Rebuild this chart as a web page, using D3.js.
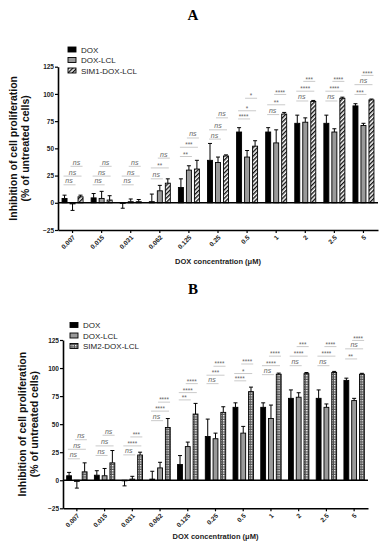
<!DOCTYPE html>
<html><head><meta charset="utf-8">
<script src="https://cdn.jsdelivr.net/npm/d3@7"></script>
<style>
html,body{margin:0;padding:0;background:#fff;}
svg{display:block;font-family:"Liberation Sans",Arial,sans-serif;}
</style></head>
<body>
<svg id="chart" width="387" height="550"></svg>
<script>
// ---------- DATA ----------
const categories = ["0.007","0.015","0.031","0.062","0.125","0.25","0.5","1","2","2.5","5"];
const yTicks = [-25,0,25,50,75,100,125];

const doxMean   = [4, 4.5, -0.5, 1, 14, 39, 65, 65, 73, 73, 89];
const doxErr    = [3, 4, 4.5, 7, 8, 15.5, 4, 4, 7.5, 7.5, 2];
const lclMean   = [-1, 4, 1, 11, 30, 37, 42, 55, 74, 65, 71];
const lclErr    = [6, 6.5, 2.5, 5, 4, 5, 6, 12, 4, 3, 2];
const sim1Mean  = [5.5, 2.5, 1, 18, 31, 43, 52, 81.5, 93, 96, 94.5];
const sim1Err   = [1.5, 4, 2, 4, 8, 1, 5, 1.5, 1, 1, 0.8];
const sim2Mean  = [7.5, 15.5, 22.5, 47, 59, 60.5, 79, 94.5, 95, 96, 94.5];
const sim2Err   = [8, 11, 2.5, 8, 9.5, 5, 4, 1, 1, 1, 0.8];

// significance labels per group: [DOX vs DOX-LCL, DOX vs SIM, DOX-LCL vs SIM]
const sigA = [["ns","ns","ns"],["ns","ns","ns"],["ns","ns","ns"],["ns","**","ns"],["**","***","ns"],
  ["ns","ns","ns"],["****","*","*"],["ns","**","****"],["ns","****","***"],["ns","****","****"],["***","ns","****"]];
// heights (y units) of those labels
const sigLevelA = [[20,28,37],[20,28,37],[20,28,37],[25.5,35.5,44.5],[46,54.5,63],[62,70.5,81.5],
  [80.5,88,99.5],[84.5,93.5,103],[97,106,115],[97,106,115],[103,112,120.5]];
const sigB = [["ns","ns","ns"],["ns","ns","ns"],["ns","****","***"],["ns","****","****"],["**","****","****"],
  ["ns","***","****"],["****","*","****"],["ns","****","****"],["ns","****","***"],["ns","****","****"],["**","ns","****"]];
const sigLevelB = [[22.5,31,39.5],[25.5,34,43.5],[26,34,42],[56.5,65,73],[75,81.5,89.5],[89.5,97,105],
  [92,98.5,107],[97.5,105.5,114],[105.5,114,122.5],[105.5,114,122.5],[111.5,120.5,128]];

const seriesA = ["DOX","DOX-LCL","SIM1-DOX-LCL"];
const seriesB = ["DOX","DOX-LCL","SIM2-DOX-LCL"];

// ---------- DRAW ----------
const svg = d3.select("#chart");
const defs = svg.append("defs");
const hatch = defs.append("pattern").attr("id","hatch").attr("patternUnits","userSpaceOnUse")
  .attr("width",3).attr("height",3).attr("patternTransform","rotate(45)");
hatch.append("rect").attr("width",3).attr("height",3).attr("fill","#fff");
hatch.append("rect").attr("width",1.4).attr("height",3).attr("fill","#111");
const dots = defs.append("pattern").attr("id","dots").attr("patternUnits","userSpaceOnUse")
  .attr("width",2.5).attr("height",2.5);
dots.append("rect").attr("width",2.5).attr("height",2.5).attr("fill","#555");
dots.append("rect").attr("width",1.3).attr("height",1.3).attr("fill","#fff");

const fills = ["#000","#9a9a9a"];

function panel(cfg){
  const g = svg.append("g");
  const x = d3.scaleBand().domain(categories).range([cfg.x0, cfg.x1]);
  const xs = d3.scaleBand().domain(cfg.series).range([-cfg.half, cfg.half]).paddingInner(0.375);
  const y = d3.scaleLinear().domain([-25,125]).range([cfg.yb, cfg.yt]);

  // title
  svg.append("text").attr("x",193).attr("y",cfg.titleY).attr("text-anchor","middle")
    .attr("font-family","'Liberation Serif','DejaVu Serif',serif").attr("font-weight","bold")
    .attr("font-size",15).text(cfg.title);

  // y axis
  const ya = g.append("g").attr("transform",`translate(${cfg.x0},0)`)
    .call(d3.axisLeft(y).tickValues(yTicks).tickSize(3).tickSizeOuter(0));
  ya.select(".domain").attr("stroke-width",1.6);
  ya.selectAll(".tick line").attr("stroke-width",1.2);
  ya.selectAll("text").attr("font-size",6.5).attr("font-weight","bold").attr("fill","#222").attr("x",-4);

  // x axis at bottom
  const xa = g.append("g").attr("transform",`translate(0,${y(-25)})`)
    .call(d3.axisBottom(x).tickSize(3).tickSizeOuter(0));
  xa.select(".domain").attr("stroke-width",1.6);
  xa.selectAll(".tick line").attr("stroke-width",1.2);
  xa.selectAll("text").attr("font-size",6.5).attr("font-weight","bold").attr("fill","#222")
    .attr("text-anchor","end").attr("dy",0).attr("y",0)
    .attr("transform","translate(3,8) rotate(-45)");

  // bars
  const data = categories.map((c,i)=>({c, vals: cfg.means.map((m,k)=>({k, v:m[i], e:cfg.errs[k][i]}))}));
  const grp = g.selectAll(".grp").data(data).join("g")
    .attr("transform",d=>`translate(${x(d.c)+x.bandwidth()/2},0)`);
  grp.selectAll(".err").data(d=>d.vals).join("path")
    .attr("d",d=>{
      const cx = xs(cfg.series[d.k]) + xs.bandwidth()/2;
      const end = d.v>=0 ? d.v + d.e : d.v - d.e;
      return `M${cx},${y(d.v)}V${y(end)}M${cx-2},${y(end)}H${cx+2}`;
    }).attr("stroke","#000").attr("stroke-width",1).attr("fill","none");
  grp.selectAll(".bar").data(d=>d.vals).join("rect")
    .attr("x",d=>xs(cfg.series[d.k])).attr("width",xs.bandwidth())
    .attr("y",d=>y(Math.max(0,d.v))).attr("height",d=>Math.abs(y(d.v)-y(0)))
    .attr("fill",d=>d.k<2?fills[d.k]:cfg.pattern).attr("stroke","#000").attr("stroke-width",0.9);

  // zero line
  g.append("line").attr("x1",cfg.x0).attr("x2",cfg.x1).attr("y1",y(0)).attr("y2",y(0))
    .attr("stroke","#000").attr("stroke-width",1.5);

  // significance
  const lx = [-3.5, 0, 4];
  const spans = [[-9,3],[-9,9],[-2,10]];
  categories.forEach((c,i)=>{
    const cx = x(c)+x.bandwidth()/2;
    for(let k=0;k<3;k++){
      const yy = y(cfg.levels[i][k]);
      const lab = cfg.sig[i][k];
      g.append("line").attr("x1",cx+spans[k][0]).attr("x2",cx+spans[k][1])
        .attr("y1",yy+3.8).attr("y2",yy+3.8).attr("stroke","#bdbdbd").attr("stroke-width",0.8);
      g.append("text").attr("x",cx+lx[k]).attr("y",yy+(lab==="ns"?2.3:4)).attr("text-anchor","middle")
        .attr("font-size",lab==="ns"?7:6.3).attr("font-style",lab==="ns"?"italic":"normal")
        .attr("fill","#666").text(lab);
    }
  });

  // legend
  cfg.series.forEach((s,k)=>{
    const ly = cfg.legY + k*10.5;
    g.append("rect").attr("x",cfg.legX).attr("y",ly-2.5).attr("width",8).attr("height",5)
      .attr("fill",k<2?fills[k]:cfg.pattern).attr("stroke","#000").attr("stroke-width",0.9);
    g.append("text").attr("x",cfg.legX+13).attr("y",ly+3).attr("font-size",8)
      .attr("fill","#222").text(s);
  });

  // y label
  const ymid = (cfg.yb+cfg.yt)/2;
  g.append("text").attr("transform",`translate(${cfg.ylabX},${ymid}) rotate(-90)`)
    .attr("text-anchor","middle").attr("font-weight","bold").attr("font-size",10.5)
    .attr("fill","#111").text("Inhibition of cell proliferation");
  g.append("text").attr("transform",`translate(${cfg.ylabX+11.5},${ymid}) rotate(-90)`)
    .attr("text-anchor","middle").attr("font-weight","bold").attr("font-size",10.5)
    .attr("fill","#111").text("(% of untreated cells)");

  // x label
  g.append("text").attr("x",(cfg.x0+cfg.x1)/2).attr("y",cfg.xlabY).attr("text-anchor","middle")
    .attr("font-weight","bold").attr("font-size",7.5).attr("fill","#222").text("DOX concentration (μM)");
}

panel({title:"A", titleY:20, x0:58, x1:378, yt:66.7, yb:230, half:10.5, series:seriesA,
  means:[doxMean,lclMean,sim1Mean], errs:[doxErr,lclErr,sim1Err], pattern:"url(#hatch)",
  sig:sigA, levels:sigLevelA, legX:68, legY:49.5, ylabX:17, xlabY:264});
panel({title:"B", titleY:294, x0:63, x1:368, yt:340, yb:508.3, half:10.2, series:seriesB,
  means:[doxMean,lclMean,sim2Mean], errs:[doxErr,lclErr,sim2Err], pattern:"url(#dots)",
  sig:sigB, levels:sigLevelB, legX:70, legY:325, ylabX:26, xlabY:539});
</script>
</body></html>
